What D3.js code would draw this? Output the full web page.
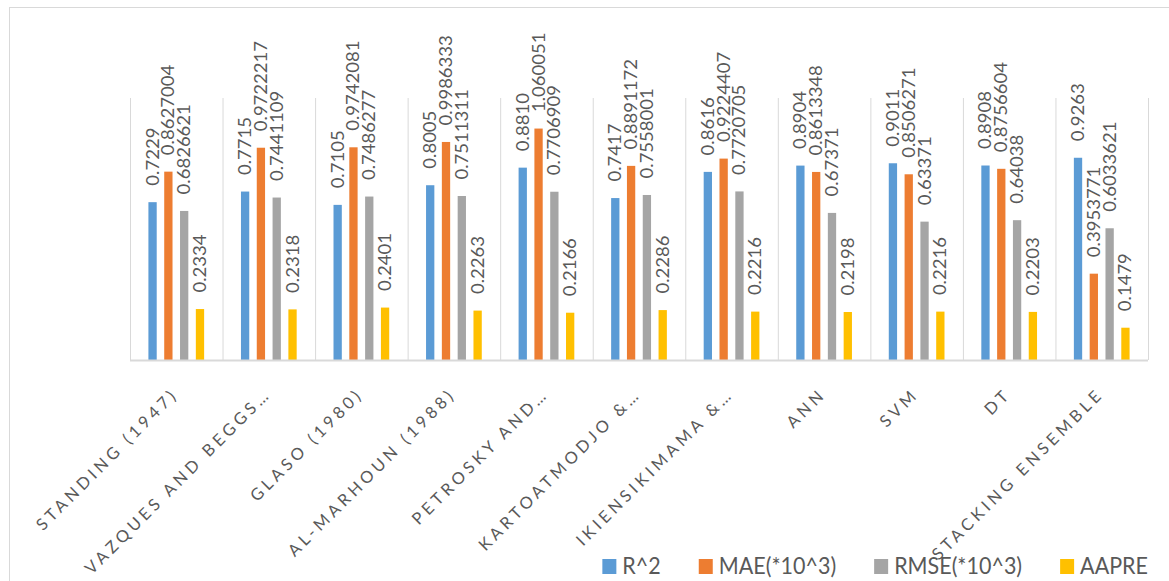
<!DOCTYPE html>
<html>
<head>
<meta charset="utf-8">
<script src="https://cdn.jsdelivr.net/npm/d3@7"></script>
<style>
  html, body { margin: 0; padding: 0; background: #ffffff; }
  svg { display: block; }
  text { font-family: Lato, "Open Sans", sans-serif; fill: #595959; }
</style>
</head>
<body>
<svg id="chart" width="1169" height="581"></svg>
<script>
// Correlation comparison: four error metrics per method
const categories = [
  "STANDING (1947)",
  "VAZQUES AND BEGGS…",
  "GLASO (1980)",
  "AL-MARHOUN (1988)",
  "PETROSKY AND…",
  "KARTOATMODJO &…",
  "IKIENSIKIMAMA &…",
  "ANN",
  "SVM",
  "DT",
  "STACKING ENSEMBLE"
];
const seriesNames = ["R^2", "MAE(*10^3)", "RMSE(*10^3)", "AAPRE"];
const r2    = [0.7229, 0.7715, 0.7105, 0.8005, 0.8810, 0.7417, 0.8616, 0.8904, 0.9011, 0.8908, 0.9263];
const mae   = [0.8627004, 0.9722217, 0.9742081, 0.9986333, 1.060051, 0.8891172, 0.9224407, 0.8613348, 0.8506271, 0.8756604, 0.3953771];
const rmse  = [0.6826621, 0.7441109, 0.7486277, 0.7511311, 0.7706909, 0.7558001, 0.7720705, 0.67371, 0.63371, 0.64038, 0.6033621];
const aapre = [0.2334, 0.2318, 0.2401, 0.2263, 0.2166, 0.2286, 0.2216, 0.2198, 0.2216, 0.2203, 0.1479];
const yDomain = [0, 1.2];

const seriesValues = [r2, mae, rmse, aapre];
const seriesFormat = [v => v.toFixed(4), v => String(v), v => String(v), v => v.toFixed(4)];
const colors = ["#5B9BD5", "#ED7D31", "#A5A5A5", "#FFC000"];

const svg = d3.select("#chart");
const stretch = 1.11;   // vertical aspect of the exported drawing

// chart frame
svg.append("rect")
  .attr("x", 9.5).attr("y", 7.5)
  .attr("width", 1200).attr("height", 600)
  .attr("fill", "#ffffff")
  .attr("stroke", "#d9d9d9").attr("stroke-width", 1);

const x0 = d3.scaleBand().domain(categories).range([130, 1148]).padding(0);
const x1 = d3.scaleBand().domain(seriesNames).range([0, x0.bandwidth()])
  .paddingInner(0.475).paddingOuter(1.165);
const y = d3.scaleLinear().domain(yDomain).range([360, 98]);

// vertical separators between categories
const bounds = categories.map(c => x0(c)).concat([x0.range()[1]]);
svg.append("g").selectAll("line").data(bounds).join("line")
  .attr("x1", d => d + 0.5).attr("x2", d => d + 0.5)
  .attr("y1", y(yDomain[1])).attr("y2", y(0))
  .attr("stroke", "#d9d9d9").attr("stroke-width", 1);

// bars
const rows = [];
categories.forEach((c, i) => {
  seriesNames.forEach((s, j) => {
    rows.push({ cat: c, series: s, j, value: seriesValues[j][i], label: seriesFormat[j](seriesValues[j][i]) });
  });
});

svg.append("g").selectAll("rect").data(rows).join("rect")
  .attr("x", d => x0(d.cat) + x1(d.series))
  .attr("y", d => y(d.value))
  .attr("width", x1.bandwidth())
  .attr("height", d => y(0) - y(d.value))
  .attr("fill", d => colors[d.j]);

// category axis line
svg.append("line")
  .attr("x1", x0.range()[0]).attr("x2", x0.range()[1])
  .attr("y1", y(0) + 0.5).attr("y2", y(0) + 0.5)
  .attr("stroke", "#d9d9d9").attr("stroke-width", 2);

// value labels above bars
svg.append("g").selectAll("text").data(rows).join("text")
  .attr("transform", d => {
    const cx = x0(d.cat) + x1(d.series) + x1.bandwidth() / 2;
    return `translate(${cx},${y(d.value) - 16.5}) rotate(-90) scale(${stretch},1)`;
  })
  .attr("dy", "0.36em")
  .style("font-size", "16.7px")
  .text(d => d.label);

// category labels
svg.append("g").selectAll("text").data(categories).join("text")
  .attr("transform", c => `translate(${x0(c) + x0.bandwidth() / 2 - 1},391) rotate(-45)`)
  .attr("text-anchor", "end")
  .attr("dy", "0.35em")
  .style("font-size", "16.5px")
  .style("letter-spacing", "3.9px")
  .text(c => c);

// legend
const legend = svg.append("g");
const items = legend.selectAll("g").data(seriesNames).join("g");
items.append("rect")
  .attr("y", 559).attr("width", 14).attr("height", 15)
  .attr("fill", (d, i) => colors[i]);
items.append("text")
  .attr("transform", `translate(20,574) scale(1,${stretch})`)
  .style("font-size", "21.5px")
  .text(d => d);
let lx = 0;
const offsets = [];
items.each(function () {
  offsets.push(lx);
  const w = d3.select(this).select("text").node().getComputedTextLength();
  lx += 20 + w + 38;
});
const total = lx - 38;
const startX = 1148 - total;
items.attr("transform", (d, i) => `translate(${startX + offsets[i]},0)`);
</script>
</body>
</html>
